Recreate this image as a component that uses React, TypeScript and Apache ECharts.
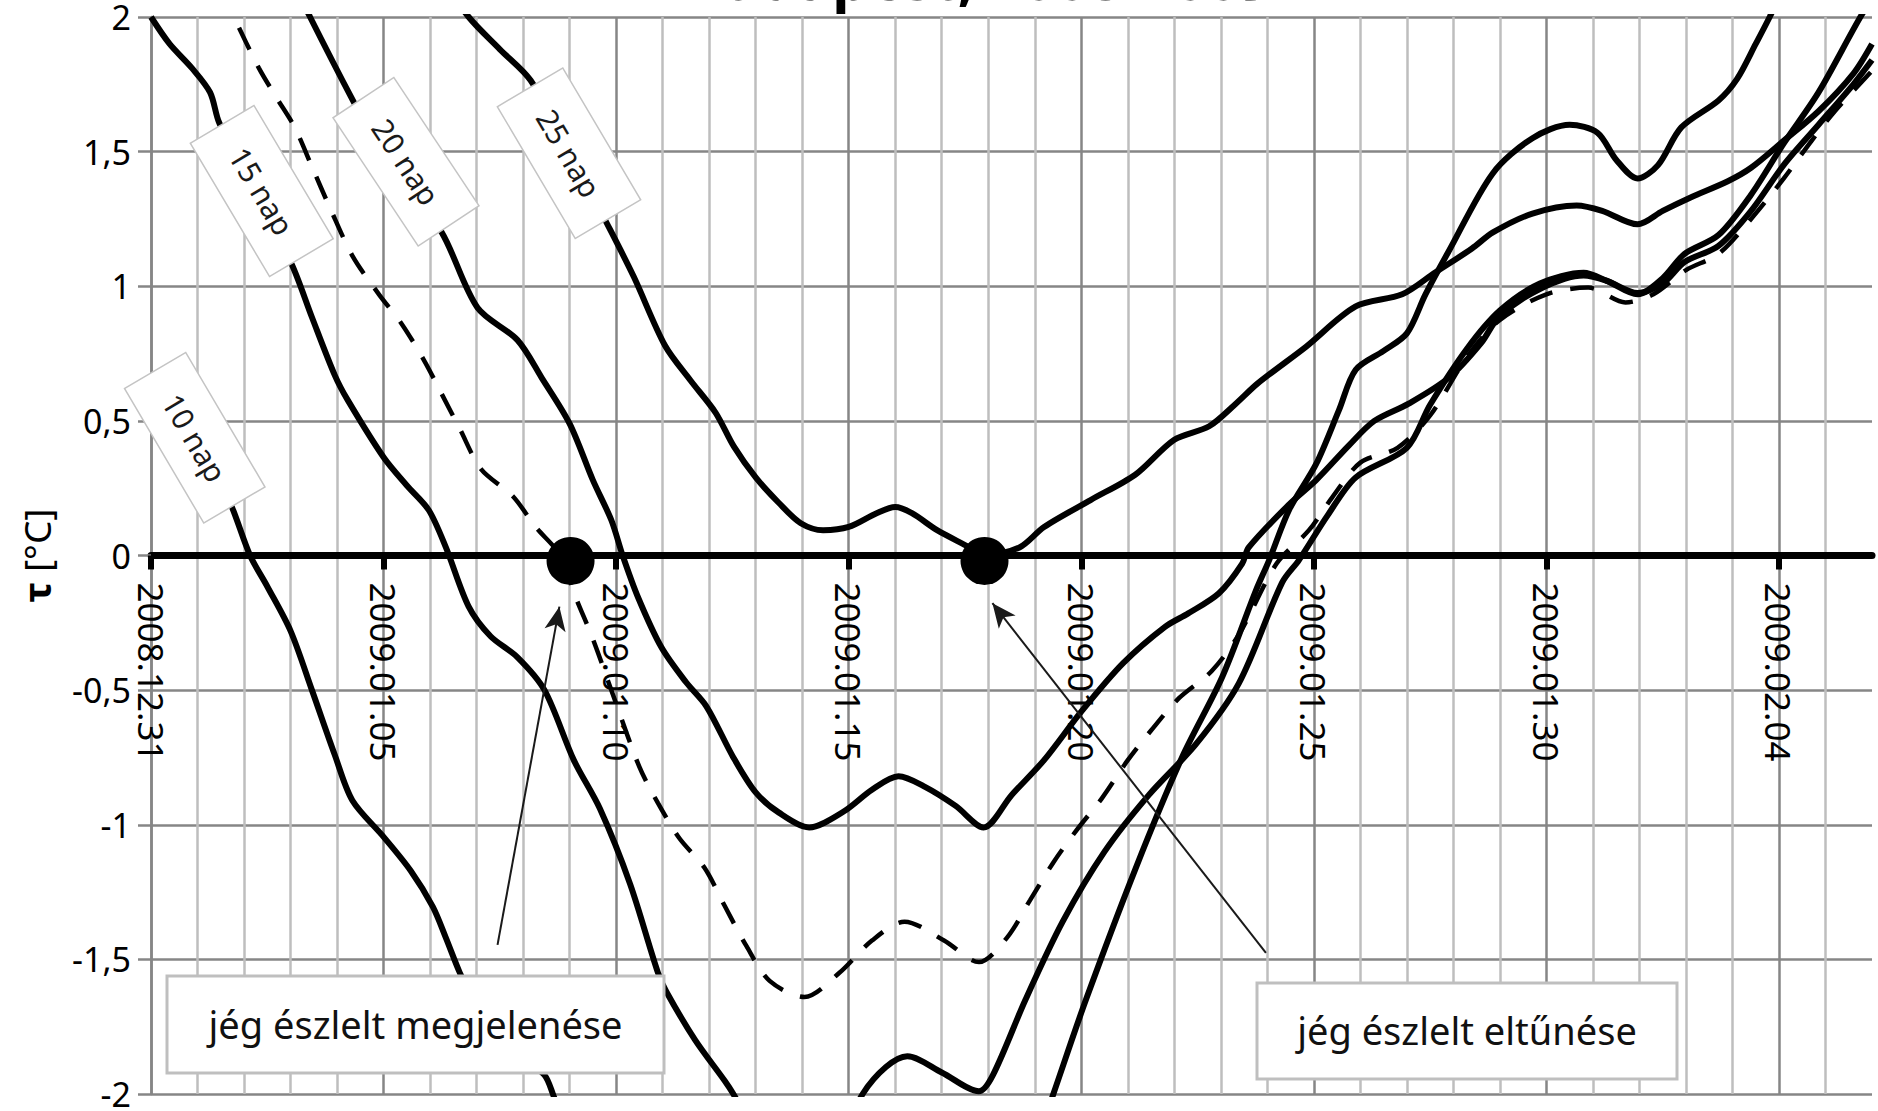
import React, { useEffect, useRef } from 'react';
import * as echarts from 'echarts';

// ---- axis ticks ----
const xTickDays = [0, 5, 10, 15, 20, 25, 30, 35];
const xTickLabels = ['2008.12.31', '2009.01.05', '2009.01.10', '2009.01.15', '2009.01.20', '2009.01.25', '2009.01.30', '2009.02.04'];
const yTickValues = [-2, -1.5, -1, -0.5, 0, 0.5, 1, 1.5, 2];
const yTickLabels = ['-2', '-1,5', '-1', '-0,5', '0', '0,5', '1', '1,5', '2'];

// ---- series: [day since 2008.12.31, value] ----
const nap10 = [
  [0, 0.6], [0.5, 0.5], [1.0, 0.39], [1.5, 0.26], [1.74, 0.18], [2.13, 0.0], [2.5, -0.115], [3.0, -0.28], [3.46, -0.5],
  [3.95, -0.74], [4.33, -0.91], [5.0, -1.045], [5.58, -1.17], [6.06, -1.305], [6.34, -1.42], [6.64, -1.55], [7.0, -1.68],
  [7.5, -1.8], [8.0, -1.87], [8.46, -1.93], [8.64, -2.0], [9.3, -2.3], [10.5, -2.6], [12, -2.8], [14, -2.9], [16, -2.8],
  [18, -2.6], [19.0, -2.2], [19.4, -2.0], [20.1, -1.65], [21.18, -1.157], [22.17, -0.748], [23.03, -0.451], [23.76, -0.128],
  [24.04, -0.017], [24.47, 0.17], [25.05, 0.34], [25.54, 0.54], [25.9, 0.69], [26.5, 0.76], [27.0, 0.825], [27.4, 0.97],
  [27.9, 1.13], [28.85, 1.42], [29.7, 1.55], [30.5, 1.6], [31.1, 1.57], [31.5, 1.47], [31.96, 1.4], [32.4, 1.45],
  [32.9, 1.59], [33.7, 1.69], [34.1, 1.77], [34.5, 1.9], [34.8, 2.0], [35.5, 2.25],
];
const nap15 = [
  [0, 2.0], [0.4, 1.9], [0.88, 1.81], [1.27, 1.72], [1.46, 1.61], [2.0, 1.42], [2.5, 1.25], [3.03, 1.08], [3.46, 0.885],
  [3.95, 0.67], [4.23, 0.577], [5.0, 0.365], [5.5, 0.26], [5.97, 0.169], [6.34, 0.03], [6.83, -0.19], [7.3, -0.3],
  [7.88, -0.378], [8.46, -0.5], [9.09, -0.76], [9.65, -0.94], [10.3, -1.22], [10.9, -1.55], [11.08, -1.62], [11.7, -1.8],
  [12.33, -1.95], [12.52, -2.0], [13.2, -2.2], [14.0, -2.3], [14.7, -2.2], [15.3, -2.0], [15.8, -1.9], [16.26, -1.86],
  [17.0, -1.92], [17.8, -1.99], [18.1, -1.93], [18.8, -1.65], [19.6, -1.36], [20.5, -1.1], [21.45, -0.89], [22.47, -0.7],
  [23.39, -0.474], [24.32, -0.1], [24.68, -0.017], [25.3, 0.15], [25.9, 0.29], [27.0, 0.4], [27.5, 0.56], [28.3, 0.77],
  [29.0, 0.91], [29.86, 1.01], [30.8, 1.05], [31.3, 1.02], [31.96, 0.97], [32.5, 1.03], [32.97, 1.12], [33.7, 1.19],
  [34.4, 1.34], [35.1, 1.53], [35.85, 1.72], [36.75, 2.0], [37.2, 2.12],
];
const nap20 = [
  [3.0, 2.15], [3.42, 2.0], [4.34, 1.69], [5.0, 1.48], [5.6, 1.33], [6.25, 1.2], [7.02, 0.92], [7.88, 0.8], [8.4, 0.66],
  [9.0, 0.49], [9.5, 0.28], [9.9, 0.13], [10.14, 0.0], [10.47, -0.155], [10.97, -0.34], [11.5, -0.47], [11.94, -0.56],
  [12.52, -0.75], [13.0, -0.88], [13.5, -0.955], [14.15, -1.01], [14.9, -0.95], [15.5, -0.87], [16.07, -0.82],
  [16.65, -0.86], [17.3, -0.93], [17.9, -1.01], [18.5, -0.89], [19.2, -0.76], [20.0, -0.58], [20.9, -0.4], [21.8, -0.265],
  [22.3, -0.215], [22.96, -0.14], [23.46, -0.03], [23.6, 0.03], [24.47, 0.19], [25.05, 0.28], [25.76, 0.41], [26.3, 0.5],
  [27.05, 0.565], [27.9, 0.66], [28.6, 0.79], [28.98, 0.886], [29.86, 0.99], [30.8, 1.04], [31.3, 1.02], [31.96, 0.975],
  [32.5, 1.01], [32.97, 1.09], [33.7, 1.15], [34.4, 1.28], [35.1, 1.45], [35.85, 1.6], [36.6, 1.75], [37, 1.84],
];
const nap25 = [
  [6.0, 2.2], [6.83, 2.0], [7.5, 1.88], [8.16, 1.765], [9.0, 1.5], [9.8, 1.234], [10.38, 1.035], [11.05, 0.78], [11.6, 0.65],
  [12.14, 0.53], [12.53, 0.405], [13.0, 0.29], [13.5, 0.195], [13.97, 0.12], [14.45, 0.094], [15.0, 0.106], [15.6, 0.157],
  [16.0, 0.18], [16.36, 0.157], [16.9, 0.094], [17.6, 0.03], [17.9, 0.0], [18.67, 0.03], [19.2, 0.106], [20.2, 0.206],
  [21.16, 0.3], [22.0, 0.43], [22.75, 0.48], [23.3, 0.56], [23.8, 0.64], [24.83, 0.775], [25.9, 0.925], [26.9, 0.97],
  [27.6, 1.05], [28.4, 1.14], [28.85, 1.2], [29.7, 1.27], [30.65, 1.3], [31.2, 1.28], [31.96, 1.23], [32.5, 1.28],
  [33.1, 1.33], [33.9, 1.39], [34.4, 1.44], [35.1, 1.54], [35.85, 1.65], [36.6, 1.79], [37, 1.9],
];
const dashedCurve = [
  [1.5, 2.1], [1.78, 2.0], [2.32, 1.81], [2.7, 1.7], [3.09, 1.59], [3.47, 1.44], [3.85, 1.29], [4.34, 1.11], [4.9, 0.97],
  [5.39, 0.86], [5.87, 0.725], [6.25, 0.6], [6.64, 0.47], [7.1, 0.32], [7.78, 0.22], [8.27, 0.106], [8.8, 0.0],
  [9.13, -0.155], [9.5, -0.31], [10.0, -0.55], [10.5, -0.785], [10.9, -0.92], [11.36, -1.05], [11.9, -1.16], [12.33, -1.3],
  [12.8, -1.45], [13.3, -1.58], [14.05, -1.64], [14.8, -1.55], [15.5, -1.43], [16.2, -1.36], [17.05, -1.43], [17.8, -1.51],
  [18.4, -1.42], [18.9, -1.28], [19.4, -1.14], [19.9, -1.02], [20.45, -0.9], [21.0, -0.76], [21.5, -0.65], [22.1, -0.53],
  [22.8, -0.43], [23.4, -0.29], [24.2, -0.03], [24.9, 0.095], [25.4, 0.217], [26.0, 0.345], [26.8, 0.4], [27.5, 0.52],
  [28.3, 0.74], [29.0, 0.875], [30.0, 0.97], [30.9, 0.995], [31.7, 0.94], [32.3, 0.97], [33.0, 1.06], [33.7, 1.12],
  [34.4, 1.25], [35.1, 1.4], [35.7, 1.54], [36.2, 1.65], [37, 1.8],
];

// ---- ice events ----
const iceDots = [[9.02, -0.02], [17.92, -0.02]];
const arrowAppear = [[7.45, -1.446], [8.78, -0.19]];
const arrowVanish = [[23.97, -1.476], [18.09, -0.177]];

const napLabels = ['10 nap', '15 nap', '20 nap', '25 nap'];
const noteLabels = ['jég észlelt megjelenése', 'jég észlelt eltűnése'];
const titleText = 'Budapest, 2008-2009';

const FONT = '"Noto Sans", "DejaVu Sans", sans-serif';

const GRID = { left: 151, right: 6, top: 17, bottom: 17 };
const HEIGHT = 1111;

export default function App() {
  const ref = useRef<HTMLDivElement>(null);

  useEffect(() => {
    document.body.style.margin = '0';
    const chart = echarts.init(ref.current!, null, { renderer: 'svg' });

    const lineSeries = (name: string, data: number[][], dashed = false) => ({
      name,
      type: 'line',
      data,
      showSymbol: false,
      symbol: 'none',
      smooth: 0.3,
      clip: true,
      z: 3,
      lineStyle: dashed
        ? { color: '#000', width: 4.5, type: [24, 18] }
        : { color: '#000', width: 6 },
    });

    const napBoxes = [
      { cx: 194.75, cy: 437.75, w: 156, h: 71, angle: 59.5 },
      { cx: 261.75, cy: 191, w: 155, h: 74, angle: 59.3 },
      { cx: 406, cy: 161.75, w: 154, h: 73, angle: 56.4 },
      { cx: 569, cy: 153.25, w: 153, h: 76, angle: 59.4 },
    ];
    const noteBoxes = [
      { x: 167, y: 976, w: 497, h: 97 },
      { x: 1257, y: 983, w: 420, h: 96 },
    ];

    const graphic: any[] = [
      {
        type: 'text',
        x: 979,
        y: -23,
        z: 100,
        style: {
          text: titleText,
          font: `bold 58px ${FONT}`,
          fill: '#000',
          align: 'center',
          verticalAlign: 'middle',
          textAlign: 'center',
          textVerticalAlign: 'middle',
        },
      },
    ];
    napBoxes.forEach((b, i) => {
      graphic.push({
        type: 'group',
        x: b.cx,
        y: b.cy,
        rotation: (-b.angle * Math.PI) / 180,
        z: 100,
        children: [
          {
            type: 'rect',
            z: 100,
            shape: { x: -b.w / 2, y: -b.h / 2, width: b.w, height: b.h },
            style: { fill: '#fff', stroke: '#C4C4C4', lineWidth: 1.5 },
          },
          {
            type: 'text',
            z: 101,
            x: 0,
            y: 0,
            style: {
              text: napLabels[i],
              font: `30px ${FONT}`,
              fill: '#1a1a1a',
              align: 'center',
              verticalAlign: 'middle',
              textAlign: 'center',
              textVerticalAlign: 'middle',
            },
          },
        ],
      });
    });
    noteBoxes.forEach((b, i) => {
      graphic.push({
        type: 'rect',
        z: 100,
        shape: { x: b.x, y: b.y, width: b.w, height: b.h },
        style: { fill: '#fff', stroke: '#BFBFBF', lineWidth: 3 },
      });
      graphic.push({
        type: 'text',
        z: 101,
        x: b.x + b.w / 2,
        y: b.y + b.h / 2 - 1,
        style: {
          text: noteLabels[i],
          font: `38px ${FONT}`,
          fill: '#111',
          align: 'center',
          verticalAlign: 'middle',
          textAlign: 'center',
          textVerticalAlign: 'middle',
        },
      });
    });

    // x axis sits on the zero line: shift it up from the grid bottom by half the plot height
    const plotHeight = HEIGHT - GRID.top - GRID.bottom;
    const zeroOffset = -plotHeight * (0 - -2) / (2 - -2);

    const option: any = {
      animation: false,
      backgroundColor: '#fff',
      grid: { ...GRID, containLabel: false, outerBoundsMode: 'none' },
      xAxis: {
        type: 'value',
        min: 0,
        max: 37,
        interval: 5,
        position: 'bottom',
        offset: zeroOffset,
        axisLine: { show: true, onZero: false, lineStyle: { color: '#000', width: 7 } },
        axisTick: { show: true, customValues: xTickDays, length: 14, lineStyle: { color: '#000', width: 6 } },
        axisLabel: {
          customValues: xTickDays,
          rotate: -90,
          margin: 27,
          color: '#000',
          fontFamily: FONT,
          fontSize: 35,
          formatter: (v: number) => {
            const i = xTickDays.indexOf(v);
            return i >= 0 ? xTickLabels[i] : '';
          },
        },
        splitLine: { show: true, lineStyle: { color: '#868686', width: 2.5 } },
        minorTick: { show: false, splitNumber: 5 },
        minorSplitLine: { show: true, lineStyle: { color: '#BEBEBE', width: 2.5 } },
      },
      yAxis: {
        type: 'value',
        min: -2,
        max: 2,
        interval: 0.5,
        name: '{b|τ} [°C]',
        nameLocation: 'middle',
        nameGap: 96,
        nameRotate: 90,
        nameTextStyle: {
          color: '#000',
          fontFamily: FONT,
          fontSize: 37,
          rich: { b: { fontWeight: 'bold', fontSize: 38, fontFamily: FONT, color: '#000' } },
        },
        axisLine: { show: true, onZero: false, lineStyle: { color: '#868686', width: 2.5 } },
        axisTick: { show: true, length: 13, lineStyle: { color: '#868686', width: 2.5 } },
        axisLabel: {
          margin: 20,
          color: '#000',
          fontFamily: FONT,
          fontSize: 34,
          lineHeight: 24,
          formatter: (v: number) => {
            const i = yTickValues.indexOf(v);
            return i >= 0 ? yTickLabels[i] : '';
          },
        },
        splitLine: { show: true, lineStyle: { color: '#868686', width: 2.5 } },
      },
      graphic,
      series: [
        lineSeries('10 nap', nap10),
        lineSeries('15 nap', nap15),
        lineSeries('20 nap', nap20),
        lineSeries('25 nap', nap25),
        lineSeries('szaggatott', dashedCurve, true),
        {
          name: 'jég',
          type: 'scatter',
          data: iceDots,
          symbol: 'circle',
          symbolSize: 48,
          z: 5,
          itemStyle: { color: '#000', opacity: 1 },
          markLine: {
            silent: true,
            symbol: ['none', 'arrow'],
            symbolSize: [16, 24],
            label: { show: false },
            lineStyle: { color: '#1a1a1a', width: 2, type: 'solid', opacity: 1 },
            emphasis: { disabled: true },
            data: [
              [{ coord: arrowAppear[0] }, { coord: arrowAppear[1] }],
              [{ coord: arrowVanish[0] }, { coord: arrowVanish[1] }],
            ],
          },
        },
      ],
    };

    chart.setOption(option);
    return () => chart.dispose();
  }, []);

  return <div ref={ref} style={{ width: 1878, height: 1111 }} />;
}
